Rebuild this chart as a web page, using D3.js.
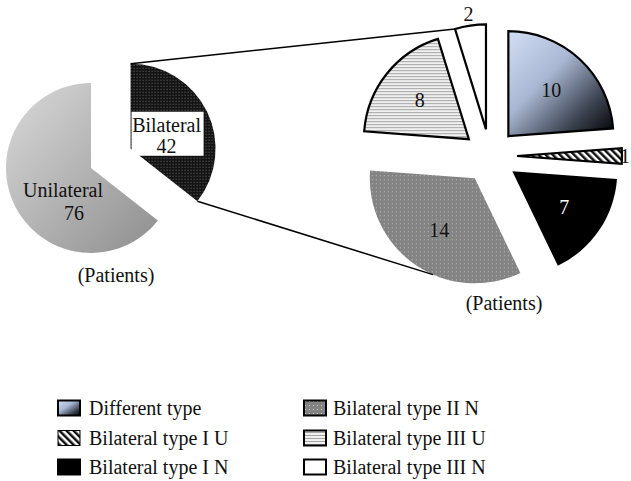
<!DOCTYPE html>
<html>
<head>
<meta charset="utf-8">
<script src="https://cdn.jsdelivr.net/npm/d3@7"></script>
<style>
  body { margin: 0; background: #fff; }
  svg text { font-family: "Liberation Serif", "DejaVu Serif", serif; font-size: 20px; fill: #111; }
</style>
</head>
<body>
<div id="chart"></div>
<script>
// left pie: all patients
var mainCats = ['Unilateral', 'Bilateral']
var mainVals = [76, 42]

// right pie: breakdown of bilateral
var subCats = ['Different type', 'Bilateral type I U', 'Bilateral type I N',
               'Bilateral type II N', 'Bilateral type III U', 'Bilateral type III N']
var subVals = [10, 1, 7, 14, 8, 2]

// legend layout order (two columns)
var legendCols = [
  ['Different type', 'Bilateral type I U', 'Bilateral type I N'],
  ['Bilateral type II N', 'Bilateral type III U', 'Bilateral type III N']
]

var W = 631, H = 481
var svg = d3.select('#chart').append('svg')
  .attr('width', W).attr('height', H)

//defs: gradients and hatch patterns
var defs = svg.append('defs')

var g1 = defs.append('linearGradient').attr('id', 'gUni')
  .attr('x1', 0).attr('y1', 0).attr('x2', 1).attr('y2', 1)
g1.append('stop').attr('offset', 0).attr('stop-color', '#dadada')
g1.append('stop').attr('offset', 1).attr('stop-color', '#8e8e8e')

var g2 = defs.append('linearGradient').attr('id', 'gDiff')
  .attr('x1', 0).attr('y1', 0).attr('x2', 1).attr('y2', 1)
g2.append('stop').attr('offset', 0).attr('stop-color', '#d2def5')
g2.append('stop').attr('offset', 0.4).attr('stop-color', '#a9b7d2')
g2.append('stop').attr('offset', 0.75).attr('stop-color', '#3b4250')
g2.append('stop').attr('offset', 1).attr('stop-color', '#000')

var p = defs.append('pattern').attr('id', 'pBil')
  .attr('width', 3).attr('height', 3).attr('patternUnits', 'userSpaceOnUse')
p.append('rect').attr('width', 3).attr('height', 3).attr('fill', '#141414')
p.append('rect').attr('width', 1).attr('height', 1).attr('fill', '#6a6a6a')

p = defs.append('pattern').attr('id', 'pIIN')
  .attr('width', 4).attr('height', 4).attr('patternUnits', 'userSpaceOnUse')
p.append('rect').attr('width', 4).attr('height', 4).attr('fill', '#838383')
p.append('rect').attr('x', 1).attr('y', 1).attr('width', 1).attr('height', 1).attr('fill', '#c4c4c4')

p = defs.append('pattern').attr('id', 'pIIIU')
  .attr('width', 4).attr('height', 3).attr('patternUnits', 'userSpaceOnUse')
p.append('rect').attr('width', 4).attr('height', 3).attr('fill', '#f0f0f0')
p.append('rect').attr('width', 4).attr('height', 1).attr('fill', '#a4a4a4')

p = defs.append('pattern').attr('id', 'pIU')
  .attr('width', 5).attr('height', 5).attr('patternUnits', 'userSpaceOnUse')
  .attr('patternTransform', 'rotate(-45)')
p.append('rect').attr('width', 5).attr('height', 5).attr('fill', '#fff')
p.append('rect').attr('width', 2.5).attr('height', 5).attr('fill', '#111')

var fills = {
  'Unilateral': 'url(#gUni)',
  'Bilateral': 'url(#pBil)',
  'Different type': 'url(#gDiff)',
  'Bilateral type I U': 'url(#pIU)',
  'Bilateral type I N': '#000',
  'Bilateral type II N': 'url(#pIIN)',
  'Bilateral type III U': 'url(#pIIIU)',
  'Bilateral type III N': '#fff'
}
var stroked = {
  'Different type': true, 'Bilateral type I U': true,
  'Bilateral type III U': true, 'Bilateral type III N': true
}

function offset(d, dist){
  var a = (d.startAngle + d.endAngle) / 2
  return [Math.sin(a) * dist, -Math.cos(a) * dist]
}
function pt(a, r){
  return [Math.sin(a) * r, -Math.cos(a) * r]
}

/*** left pie ***/
// bilateral wedge sits from 12 o'clock clockwise, so start the pie after it
var leftC = [91, 168], leftR = 85, leftExp = 44
var tot = d3.sum(mainVals)
var a0 = 2 * Math.PI * mainVals[1] / tot
var mainPie = d3.pie().sort(null).startAngle(a0).endAngle(a0 + 2 * Math.PI)(mainVals)
var mainArc = d3.arc().innerRadius(0).outerRadius(leftR)
var left = svg.append('g').attr('transform', 'translate(' + leftC + ')')

left.selectAll('path').data(mainPie).enter().append('path')
  .attr('d', mainArc)
  .attr('fill', function(d, i){ return fills[mainCats[i]] })
  .attr('transform', function(d, i){
    return i == 1 ? 'translate(' + offset(d, leftExp) + ')' : null
  })

/*** right pie ***/
var rightC = [490, 156], rightR = 105, rightExp = 27
var subPie = d3.pie().sort(null)(subVals)
var subArc = d3.arc().innerRadius(0).outerRadius(rightR)
var right = svg.append('g').attr('transform', 'translate(' + rightC + ')')

right.selectAll('path').data(subPie).enter().append('path')
  .attr('d', subArc)
  .attr('transform', function(d){ return 'translate(' + offset(d, rightExp) + ')' })
  .attr('fill', function(d, i){ return fills[subCats[i]] })
  .attr('stroke', function(d, i){ return stroked[subCats[i]] ? '#000' : 'none' })
  .attr('stroke-width', 2.2)
  .attr('stroke-linejoin', 'miter')

//connector lines from the bilateral wedge to the breakdown
var bil = mainPie[1]
var bo = offset(bil, leftExp)
var bTop = pt(bil.startAngle, leftR), bBot = pt(bil.endAngle, leftR)
var topSl = subPie[5], botSl = subPie[3]
var to = offset(topSl, rightExp), bo2 = offset(botSl, rightExp)
var tEnd = pt(topSl.startAngle, rightR)
var bEnd = pt(botSl.startAngle + 0.41 * (botSl.endAngle - botSl.startAngle), rightR)

var conn = [
  [[leftC[0] + bo[0] + bTop[0], leftC[1] + bo[1] + bTop[1]],
   [rightC[0] + to[0] + tEnd[0], rightC[1] + to[1] + tEnd[1]]],
  [[leftC[0] + bo[0] + bBot[0], leftC[1] + bo[1] + bBot[1]],
   [rightC[0] + bo2[0] + bEnd[0], rightC[1] + bo2[1] + bEnd[1]]]
]
svg.selectAll('line.conn').data(conn).enter().append('line')
  .attr('class', 'conn')
  .attr('x1', function(d){ return d[0][0] }).attr('y1', function(d){ return d[0][1] })
  .attr('x2', function(d){ return d[1][0] }).attr('y2', function(d){ return d[1][1] })
  .attr('stroke', '#000').attr('stroke-width', 1.5)

//left labels
var lb = svg.append('g')
lb.append('text').attr('x', 63).attr('y', 197).attr('text-anchor', 'middle').text(mainCats[0])
lb.append('text').attr('x', 74).attr('y', 220).attr('text-anchor', 'middle').text(mainVals[0])

var bx = leftC[0] + bo[0], by = leftC[1] + bo[1]
lb.append('rect').attr('x', bx + 1).attr('y', by - 37).attr('width', 72).attr('height', 44)
  .attr('fill', '#fff')
lb.append('text').attr('x', bx + 36).attr('y', by - 17).attr('text-anchor', 'middle').text(mainCats[1])
lb.append('text').attr('x', bx + 36).attr('y', by + 4).attr('text-anchor', 'middle').text(mainVals[1])

svg.append('text').attr('x', 116).attr('y', 282).attr('text-anchor', 'middle').text('(Patients)')
svg.append('text').attr('x', 504).attr('y', 310).attr('text-anchor', 'middle').text('(Patients)')

//right value labels
right.selectAll('text.val').data(subPie).enter().append('text')
  .attr('class', 'val')
  .attr('text-anchor', 'middle')
  .attr('dy', '0.35em')
  .attr('transform', function(d){
    var o = offset(d, rightExp)
    var small = d.value < 3
    var q = offset(d, small ? rightR + 12 : rightR * 0.6)
    var x = Math.min(o[0] + q[0], W - rightC[0] - 6)
    return 'translate(' + x + ',' + (o[1] + q[1]) + ')'
  })
  .style('fill', function(d, i){ return subCats[i] == 'Bilateral type I N' ? '#fff' : '#111' })
  .text(function(d){ return d.value })

//legend
var legX = [58, 304], legY = [408, 438, 467]
legendCols.forEach(function(col, ci){
  var lg = svg.append('g')
  col.forEach(function(name, ri){
    var gg = lg.append('g').attr('transform', 'translate(' + legX[ci] + ',' + legY[ri] + ')')
    gg.append('rect').attr('x', 0).attr('y', -7.5).attr('width', 22).attr('height', 15)
      .attr('fill', fills[name])
      .attr('stroke', '#000').attr('stroke-width', name == 'Bilateral type I U' ? 1 : 2)
    gg.append('text').attr('x', ci == 0 ? 31 : 29).attr('y', 7).text(name)
  })
})
</script>
</body>
</html>
